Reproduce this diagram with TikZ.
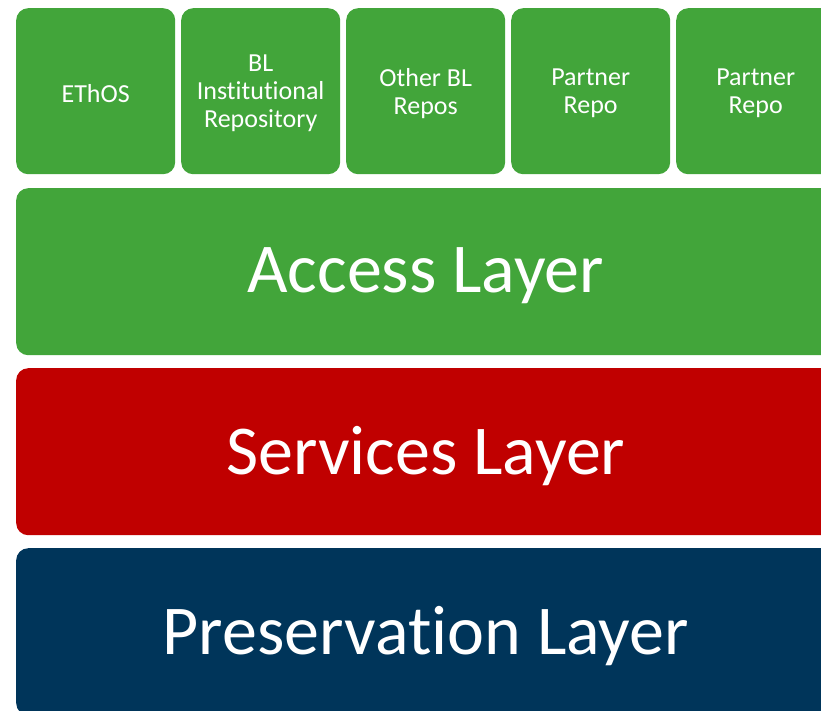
\documentclass[tikz,border=0pt]{standalone}
\usepackage{fontspec}
\setmainfont[Ligatures=NoCommon]{Carlito}
\definecolor{accgreen}{RGB}{66,165,58}
\definecolor{srvred}{RGB}{192,0,0}
\definecolor{presnavy}{RGB}{0,53,90}
\begin{document}
\begin{tikzpicture}[x=1pt,y=-1pt,
  repobox/.style={fill=accgreen,rounded corners=12pt,minimum width=159pt,minimum height=166pt,inner sep=0pt,anchor=north west,text=white,align=center,font=\fontsize{26}{28}\selectfont},
  layerbox/.style={rounded corners=12pt,minimum width=819pt,minimum height=167pt,inner sep=0pt,anchor=north west,text=white,font=\fontsize{70}{80}\selectfont},
  repotext/.style={text=white,align=center,font=\fontsize{26}{28}\selectfont},
  layertext/.style={text=white,font=\fontsize{70}{80}\selectfont}]
\useasboundingbox (0,0) rectangle (821,710);
\clip (0,0) rectangle (821,710);
\node[repobox] (ethos) at (16,8) {};
\node[repobox] (blir) at (181,8) {};
\node[repobox] (other) at (346,8) {};
\node[repobox] (partnera) at (511,8) {};
\node[repobox] (partnerb) at (676,8) {};
\node[repotext] at ([yshift=-2pt]ethos.center) {EThOS};
\node[repotext] at ([yshift=-2pt]blir.center) {BL\\Institutional\\Repository};
\node[repotext] at ([yshift=-2pt]other.center) {Other BL\\Repos};
\node[repotext] at ([yshift=-2pt]partnera.center) {Partner\\Repo};
\node[repotext] at ([yshift=-2pt]partnerb.center) {Partner\\Repo};
\node[layerbox,fill=accgreen] (access) at (16,188) {};
\node[layerbox,fill=srvred] (services) at (16,368) {};
\node[layerbox,fill=presnavy] (preservation) at (16,548) {};
\node[layertext] at ([yshift=-4pt]access.center) {Access Layer};
\node[layertext] at ([yshift=-4pt]services.center) {Services Layer};
\node[layertext] at ([yshift=-4pt]preservation.center) {Preservation Layer};
\end{tikzpicture}
\end{document}
